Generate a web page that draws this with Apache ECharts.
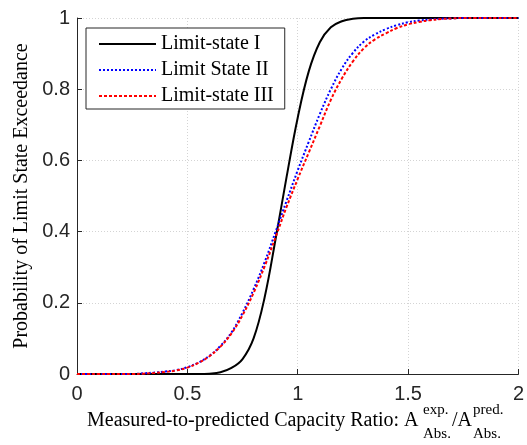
<!DOCTYPE html>
<html>
<head>
<meta charset="utf-8">
<script src="https://cdn.jsdelivr.net/npm/echarts@6/dist/echarts.min.js"></script>
<style>
  html, body { margin: 0; padding: 0; background: #fff; }
  #chart { width: 527px; height: 445px; }
</style>
</head>
<body>
<div id="chart"></div>
<script>
// x grid (capacity ratio), read every 0.05
const ratios = [0, 0.05, 0.1, 0.15, 0.2, 0.25, 0.3, 0.35, 0.4, 0.45,
  0.5, 0.55, 0.6, 0.65, 0.7, 0.75, 0.8, 0.85, 0.9, 0.95,
  1, 1.05, 1.1, 1.15, 1.2, 1.25, 1.3, 1.35, 1.4, 1.45,
  1.5, 1.55, 1.6, 1.65, 1.7, 1.75, 1.8, 1.85, 1.9, 1.95, 2]

const limitState1 = [0, 0, 0, 0, 0, 0, 0, 0, 0, 0,
  0, 0, 0.001, 0.005, 0.017, 0.042, 0.1, 0.215, 0.38, 0.555,
  0.72, 0.85, 0.932, 0.974, 0.991, 0.998, 1, 1, 1, 1,
  1, 1, 1, 1, 1, 1, 1, 1, 1, 1, 1]

const limitState2 = [0, 0, 0, 0, 0, 0, 0.002, 0.004, 0.007, 0.011,
  0.019, 0.032, 0.051, 0.079, 0.117, 0.172, 0.238, 0.314, 0.4, 0.487,
  0.572, 0.652, 0.73, 0.8, 0.858, 0.902, 0.934, 0.954, 0.969, 0.98,
  0.988, 0.993, 0.996, 0.998, 0.999, 1, 1, 1, 1, 1, 1]

const limitState3 = [0, 0, 0, 0, 0, 0, 0.001, 0.003, 0.006, 0.01,
  0.018, 0.031, 0.05, 0.077, 0.114, 0.165, 0.228, 0.302, 0.385, 0.47,
  0.548, 0.622, 0.696, 0.77, 0.83, 0.878, 0.915, 0.94, 0.957, 0.972,
  0.982, 0.989, 0.994, 0.997, 0.999, 1, 1, 1, 1, 1, 1]

const seriesNames = ['Limit-state I', 'Limit State II', 'Limit-state III']
const xTicks = [0, 0.5, 1, 1.5, 2]
const yTicks = [0, 0.2, 0.4, 0.6, 0.8, 1]

const serif = 'Liberation Serif'
const sans = 'Liberation Sans'

const pairs = ys => ratios.map((x, i) => [x, ys[i]])

const chart = echarts.init(document.getElementById('chart'), null, { renderer: 'canvas' })

chart.setOption({
  backgroundColor: '#fff',
  animation: false,
  grid: {
    left: 77,
    right: 6,
    top: 18,
    bottom: 71
  },
  legend: {
    orient: 'vertical',
    left: 86,
    top: 28,
    padding: [6, 11, 3, 12],
    itemGap: 6,
    itemWidth: 57,
    itemHeight: 14,
    itemStyle: { opacity: 0 },
    backgroundColor: '#fff',
    borderColor: '#262626',
    borderWidth: 1,
    borderRadius: 0,
    textStyle: {
      fontFamily: serif,
      fontSize: 20,
      color: '#000'
    },
    data: seriesNames
  },
  xAxis: {
    type: 'value',
    min: xTicks[0],
    max: xTicks[xTicks.length - 1],
    interval: 0.5,
    axisLine: { lineStyle: { color: '#262626', width: 1 } },
    axisTick: { inside: true, length: 5, lineStyle: { color: '#262626' } },
    axisLabel: {
      margin: 10,
      fontFamily: sans,
      fontSize: 20,
      color: '#262626'
    },
    splitLine: { show: true, lineStyle: { color: '#d4d4d4', type: [1, 2], width: 1 } }
  },
  yAxis: {
    type: 'value',
    min: yTicks[0],
    max: yTicks[yTicks.length - 1],
    interval: 0.2,
    name: 'Probability of Limit State Exceedance',
    nameLocation: 'middle',
    nameGap: 41,
    nameTextStyle: {
      fontFamily: serif,
      fontSize: 20,
      color: '#000'
    },
    axisLine: { lineStyle: { color: '#262626', width: 1 } },
    axisTick: { inside: true, length: 5, lineStyle: { color: '#262626' } },
    axisLabel: {
      margin: 7,
      fontFamily: sans,
      fontSize: 20,
      color: '#262626'
    },
    splitLine: { show: true, lineStyle: { color: '#d4d4d4', type: [1, 2], width: 1 } }
  },
  graphic: [
    { type: 'text', x: 87, y: 421, style: { text: 'Measured-to-predicted Capacity Ratio: A', fontFamily: serif, fontSize: 20, fill: '#000', verticalAlign: 'middle' } },
    { type: 'text', x: 423, y: 410, style: { text: 'exp.', fontFamily: serif, fontSize: 15, fill: '#000', verticalAlign: 'middle' } },
    { type: 'text', x: 423, y: 434, style: { text: 'Abs.', fontFamily: serif, fontSize: 15, fill: '#000', verticalAlign: 'middle' } },
    { type: 'text', x: 452, y: 421, style: { text: '/A', fontFamily: serif, fontSize: 20, fill: '#000', verticalAlign: 'middle' } },
    { type: 'text', x: 473, y: 410, style: { text: 'pred.', fontFamily: serif, fontSize: 15, fill: '#000', verticalAlign: 'middle' } },
    { type: 'text', x: 473, y: 434, style: { text: 'Abs.', fontFamily: serif, fontSize: 15, fill: '#000', verticalAlign: 'middle' } }
  ],
  series: [
    {
      name: seriesNames[0],
      type: 'line',
      smooth: 0.4,
      symbol: 'none',
      lineStyle: { color: '#000', width: 2 },
      itemStyle: { color: '#000' },
      data: pairs(limitState1)
    },
    {
      name: seriesNames[1],
      type: 'line',
      smooth: 0.4,
      symbol: 'none',
      lineStyle: { color: '#0000ff', width: 2, type: [2, 2] },
      itemStyle: { color: '#0000ff' },
      data: pairs(limitState2)
    },
    {
      name: seriesNames[2],
      type: 'line',
      smooth: 0.4,
      symbol: 'none',
      lineStyle: { color: '#ff0000', width: 2, type: [3, 2] },
      itemStyle: { color: '#ff0000' },
      data: pairs(limitState3)
    }
  ]
})
</script>
</body>
</html>
